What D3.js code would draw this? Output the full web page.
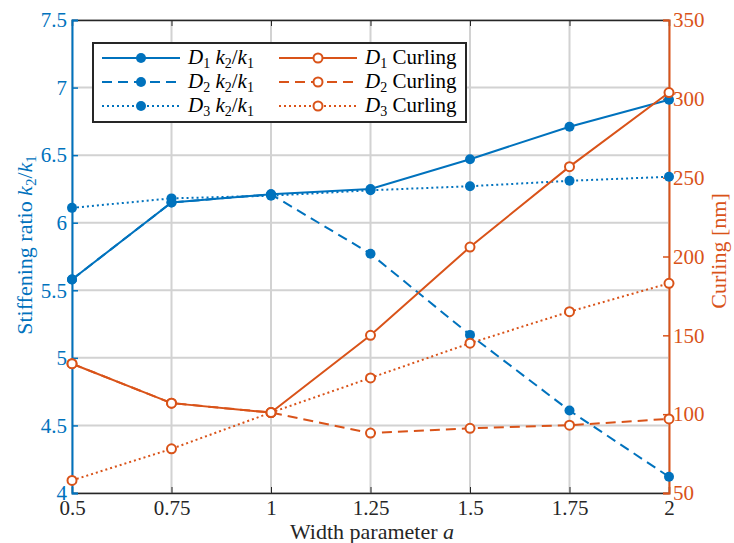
<!DOCTYPE html>
<html>
<head>
<meta charset="utf-8">
<script src="https://cdn.jsdelivr.net/npm/d3@7"></script>
<style>
  body { margin: 0; background: #fff; }
</style>
</head>
<body>
<div id="chart"></div>
<script>
var width = 734, height = 543;
var margin = {top: 20, right: 65, bottom: 50, left: 72};
var serif = "'Liberation Serif', 'Times New Roman', serif";

// data
var widths = [0.5, 0.75, 1, 1.25, 1.5, 1.75, 2];
var d1Ratio = [5.58, 6.15, 6.21, 6.25, 6.47, 6.71, 6.91];
var d2Ratio = [5.58, 6.15, 6.21, 5.77, 5.17, 4.61, 4.12];
var d3Ratio = [6.11, 6.18, 6.20, 6.24, 6.27, 6.31, 6.34];
var d1Curl = [132, 107, 101, 150, 206, 257, 304];
var d2Curl = [132, 107, 101, 88, 91, 93, 97];
var d3Curl = [58, 78, 101, 123, 145, 165, 183];
var xTicks = [0.5, 0.75, 1, 1.25, 1.5, 1.75, 2];
var yLeftTicks = [4, 4.5, 5, 5.5, 6, 6.5, 7, 7.5];
var yRightTicks = [50, 100, 150, 200, 250, 300, 350];

var blue = '#0072BD', orange = '#D95319';
var dashes = {solid: null, dashed: '10,6', dotted: '2,3'};

var svg = d3.select("#chart")
  .append("svg")
  .attr("width", width)
  .attr("height", height)
  .style("font-family", serif);

var x0 = margin.left, x1 = width - margin.right;
var y0 = height - margin.bottom, y1 = margin.top;

var xScale = d3.scaleLinear().domain([0.5, 2]).range([x0, x1]);
var yLeft = d3.scaleLinear().domain([4, 7.5]).range([y0, y1]);
var yRight = d3.scaleLinear().domain([50, 350]).range([y0, y1]);

// grid
svg.append("g")
  .selectAll("line")
  .data(xTicks)
  .enter().append("line")
  .attr("x1", d => xScale(d)).attr("x2", d => xScale(d))
  .attr("y1", y1).attr("y2", y0)
  .style("stroke", "#d2d2d2").style("stroke-width", 2);

svg.append("g")
  .selectAll("line")
  .data(yLeftTicks)
  .enter().append("line")
  .attr("x1", x0).attr("x2", x1)
  .attr("y1", d => yLeft(d)).attr("y2", d => yLeft(d))
  .style("stroke", "#d2d2d2").style("stroke-width", 2);

// Render X axis (bottom + top box lines)
svg.append("g")
  .attr("transform", `translate(0,${y0})`)
  .call(d3.axisBottom(xScale).tickValues(xTicks).tickSize(-6).tickPadding(7).tickFormat(d => String(d)))
  .attr("font-family", null)
  .call(g => g.select(".domain").attr("stroke", "#262626").attr("stroke-width", 1.5))
  .call(g => g.selectAll(".tick line").attr("stroke", "#262626"))
  .call(g => g.selectAll("text").style("font-size", "21px").style("fill", "#262626").style("font-family", serif));

svg.append("g")
  .attr("transform", `translate(0,${y1})`)
  .call(d3.axisTop(xScale).tickValues(xTicks).tickSize(-6).tickFormat(""))
  .call(g => g.select(".domain").attr("stroke", "#262626").attr("stroke-width", 1.5))
  .call(g => g.selectAll(".tick line").attr("stroke", "#262626"));

// Y axes
svg.append("g")
  .attr("transform", `translate(${x0},0)`)
  .call(d3.axisLeft(yLeft).tickValues(yLeftTicks).tickSize(-6).tickPadding(5).tickFormat(d => String(d)))
  .attr("font-family", null)
  .call(g => g.select(".domain").attr("stroke", blue).attr("stroke-width", 2))
  .call(g => g.selectAll(".tick line").attr("stroke", blue).attr("stroke-width", 1.5))
  .call(g => g.selectAll("text").style("font-size", "21px").style("fill", blue).style("font-family", serif));

svg.append("g")
  .attr("transform", `translate(${x1},0)`)
  .call(d3.axisRight(yRight).tickValues(yRightTicks).tickSize(-6).tickPadding(4).tickFormat(d => String(d)))
  .attr("font-family", null)
  .call(g => g.select(".domain").attr("stroke", orange).attr("stroke-width", 2))
  .call(g => g.selectAll(".tick line").attr("stroke", orange).attr("stroke-width", 1.5))
  .call(g => g.selectAll("text").style("font-size", "21px").style("fill", orange).style("font-family", serif));

// axis titles
var yl = svg.append("text")
  .attr("transform", `translate(32,245) rotate(-90)`)
  .style("text-anchor", "middle")
  .style("font-size", "22px")
  .style("font-family", serif)
  .style("fill", blue);
yl.append("tspan").text("Stiffening ratio ");
yl.append("tspan").text("k").style("font-style", "italic");
yl.append("tspan").text("2").attr("dy", 4).style("font-size", "15px");
yl.append("tspan").text("/").attr("dy", -4);
yl.append("tspan").text("k").style("font-style", "italic");
yl.append("tspan").text("1").attr("dy", 4).style("font-size", "15px");

svg.append("text")
  .attr("transform", `translate(726,251) rotate(-90)`)
  .style("text-anchor", "middle")
  .style("font-size", "22px")
  .style("font-family", serif)
  .style("fill", orange)
  .text("Curling [nm]");

var xl = svg.append("text")
  .attr("x", 372)
  .attr("y", 539)
  .style("text-anchor", "middle")
  .style("font-size", "22px")
  .style("font-family", serif)
  .style("fill", "#262626");
xl.append("tspan").text("Width parameter ");
xl.append("tspan").text("a").style("font-style", "italic");

// series
var series = [
  {vals: d1Ratio, axis: yLeft, color: blue, dash: 'solid', filled: true},
  {vals: d2Ratio, axis: yLeft, color: blue, dash: 'dashed', filled: true},
  {vals: d3Ratio, axis: yLeft, color: blue, dash: 'dotted', filled: true},
  {vals: d1Curl, axis: yRight, color: orange, dash: 'solid', filled: false},
  {vals: d2Curl, axis: yRight, color: orange, dash: 'dashed', filled: false},
  {vals: d3Curl, axis: yRight, color: orange, dash: 'dotted', filled: false}
];

var linesG = svg.append("g").attr("class", "lines");

series.forEach(function(s) {
  var line = d3.line()
    .x((d, i) => xScale(widths[i]))
    .y(d => s.axis(d));

  var g = linesG.append("g");
  g.append("path")
    .attr("d", line(s.vals))
    .style("fill", "none")
    .style("stroke", s.color)
    .style("stroke-width", 2)
    .style("stroke-dasharray", dashes[s.dash]);

  g.selectAll("circle")
    .data(s.vals)
    .enter().append("circle")
    .attr("cx", (d, i) => xScale(widths[i]))
    .attr("cy", d => s.axis(d))
    .attr("r", s.filled ? 5 : 4.5)
    .style("fill", s.filled ? s.color : "#fff")
    .style("stroke", s.color)
    .style("stroke-width", s.filled ? 0 : 2);
});

// legend
var legend = svg.append("g").attr("class", "legend");
legend.append("rect")
  .attr("x", 93).attr("y", 43)
  .attr("width", 373).attr("height", 79)
  .style("fill", "#fff")
  .style("stroke", "#262626")
  .style("stroke-width", 2);

var legendRows = [
  {col: 0, row: 0, color: blue, dash: 'solid', filled: true, label: 'ratio', idx: '1'},
  {col: 0, row: 1, color: blue, dash: 'dashed', filled: true, label: 'ratio', idx: '2'},
  {col: 0, row: 2, color: blue, dash: 'dotted', filled: true, label: 'ratio', idx: '3'},
  {col: 1, row: 0, color: orange, dash: 'solid', filled: false, label: 'curl', idx: '1'},
  {col: 1, row: 1, color: orange, dash: 'dashed', filled: false, label: 'curl', idx: '2'},
  {col: 1, row: 2, color: orange, dash: 'dotted', filled: false, label: 'curl', idx: '3'}
];

legendRows.forEach(function(r) {
  var lx = r.col === 0 ? 102 : 279;
  var ly = 58 + r.row * 24;
  legend.append("line")
    .attr("x1", lx).attr("x2", lx + 78)
    .attr("y1", ly).attr("y2", ly)
    .style("stroke", r.color)
    .style("stroke-width", 2)
    .style("stroke-dasharray", dashes[r.dash]);
  legend.append("circle")
    .attr("cx", lx + 39).attr("cy", ly)
    .attr("r", r.filled ? 5 : 4.5)
    .style("fill", r.filled ? r.color : "#fff")
    .style("stroke", r.color)
    .style("stroke-width", r.filled ? 0 : 2);

  var t = legend.append("text")
    .attr("x", lx + 86).attr("y", ly + 6)
    .style("font-size", "21px")
    .style("font-family", serif)
    .style("fill", "#000");
  t.append("tspan").text("D").style("font-style", "italic");
  t.append("tspan").text(r.idx).attr("dy", 4).style("font-size", "14px");
  if (r.label === 'ratio') {
    t.append("tspan").text(" k").attr("dy", -4).style("font-style", "italic");
    t.append("tspan").text("2").attr("dy", 4).style("font-size", "14px");
    t.append("tspan").text("/").attr("dy", -4);
    t.append("tspan").text("k").style("font-style", "italic");
    t.append("tspan").text("1").attr("dy", 4).style("font-size", "14px");
  } else {
    t.append("tspan").text(" Curling").attr("dy", -4);
  }
});
</script>
</body>
</html>
